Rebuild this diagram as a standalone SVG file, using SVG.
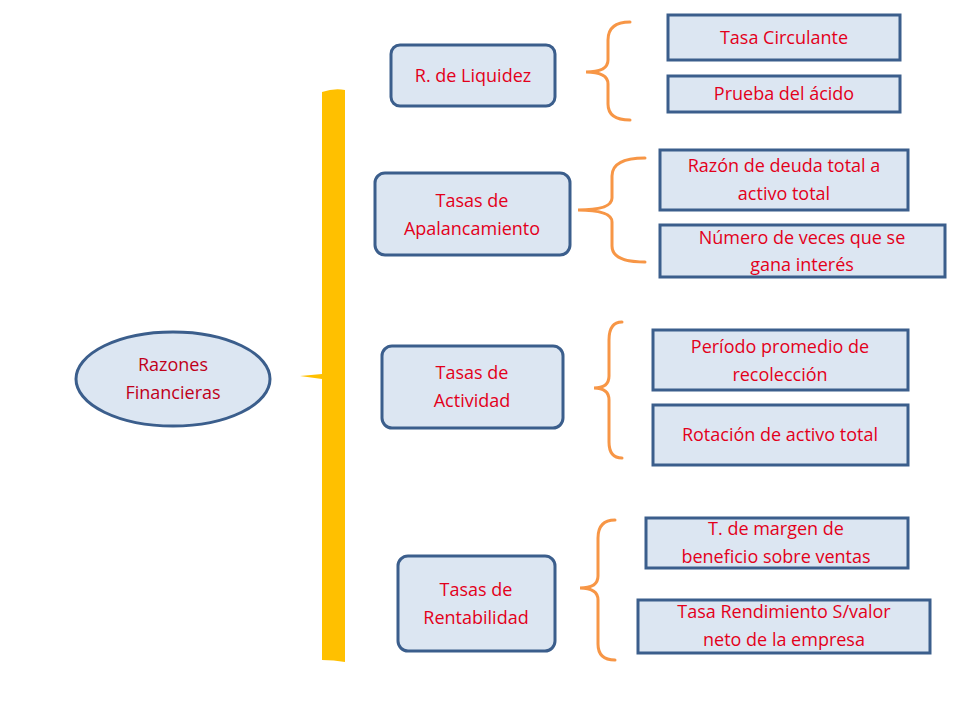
<svg xmlns="http://www.w3.org/2000/svg" width="960" height="720" viewBox="0 0 960 720">
<style>
.n{fill:#dce6f2;stroke:#3b5e8c;stroke-width:3}
.t{fill:#e3001b;font-family:"Open Sans","Liberation Sans",sans-serif;font-size:18px;text-anchor:middle}
.tl{fill:#c0001a;font-family:"Open Sans","Liberation Sans",sans-serif;font-size:18px;text-anchor:middle}
.b{fill:none;stroke:#f79646;stroke-width:3;stroke-linecap:round}
</style>
<rect width="960" height="720" fill="#fff"/>
<g id="connectors">
<path d="M322,92 Q334,88 345,90 L345,662 Q334,660 322,660 Z" fill="#ffc000"/>
<path d="M300,376 L322,374 L322,379 Z" fill="#ffc000"/>
<path class="b" d="M630,22 Q608,22 608,40 L608,60 Q608,72 586,72 Q608,72 608,84 L608,104 Q608,120 630,120"/>
<path class="b" d="M645,158 Q612,158 612,176 L612,198 Q612,210 578,210 Q612,210 612,222 L612,246 Q612,262 645,262"/>
<path class="b" d="M622,322 Q609,322 609,340 L609,376 Q609,388 594,388 Q609,388 609,400 L609,442 Q609,458 622,458"/>
<path class="b" d="M615,520 Q598,520 598,538 L598,576 Q598,588 580,588 Q598,588 598,600 L598,644 Q598,660 615,660"/>
</g>
<g id="root"><ellipse class="n" cx="173" cy="379" rx="97" ry="47"/><text class="tl" x="173" y="371">Razones</text><text class="tl" x="173" y="399">Financieras</text></g>
<g id="liq"><rect class="n" x="391" y="45" width="164" height="61" rx="9"/><text class="t" x="473" y="82">R. de Liquidez</text></g>
<g id="apal"><rect class="n" x="375" y="173" width="195" height="82" rx="10"/><text class="t" x="472" y="207">Tasas de</text><text class="t" x="472" y="235">Apalancamiento</text></g>
<g id="act"><rect class="n" x="382" y="346" width="181" height="82" rx="10"/><text class="t" x="472" y="379">Tasas de</text><text class="t" x="472" y="407">Actividad</text></g>
<g id="rent"><rect class="n" x="398" y="556" width="157" height="95" rx="10"/><text class="t" x="476" y="596">Tasas de</text><text class="t" x="476" y="624">Rentabilidad</text></g>
<g id="n1"><rect class="n" x="668" y="15" width="232" height="45"/><text class="t" x="784" y="44">Tasa Circulante</text></g>
<g id="n2"><rect class="n" x="668" y="76" width="232" height="36"/><text class="t" x="784" y="100">Prueba del ácido</text></g>
<g id="n3"><rect class="n" x="660" y="150" width="248" height="60"/><text class="t" x="784" y="172">Razón de deuda total a</text><text class="t" x="784" y="200">activo total</text></g>
<g id="n4"><rect class="n" x="660" y="225" width="285" height="52"/><text class="t" x="802" y="244">Número de veces que se</text><text class="t" x="802" y="271">gana interés</text></g>
<g id="n5"><rect class="n" x="653" y="330" width="255" height="60"/><text class="t" x="780" y="353">Período promedio de</text><text class="t" x="780" y="381">recolección</text></g>
<g id="n6"><rect class="n" x="653" y="405" width="255" height="60"/><text class="t" x="780" y="441">Rotación de activo total</text></g>
<g id="n7"><rect class="n" x="646" y="518" width="262" height="50"/><text class="t" x="776" y="535">T. de margen de</text><text class="t" x="776" y="563">beneficio sobre ventas</text></g>
<g id="n8"><rect class="n" x="638" y="600" width="292" height="53"/><text class="t" x="784" y="618">Tasa Rendimiento S/valor</text><text class="t" x="784" y="646">neto de la empresa</text></g>
</svg>
